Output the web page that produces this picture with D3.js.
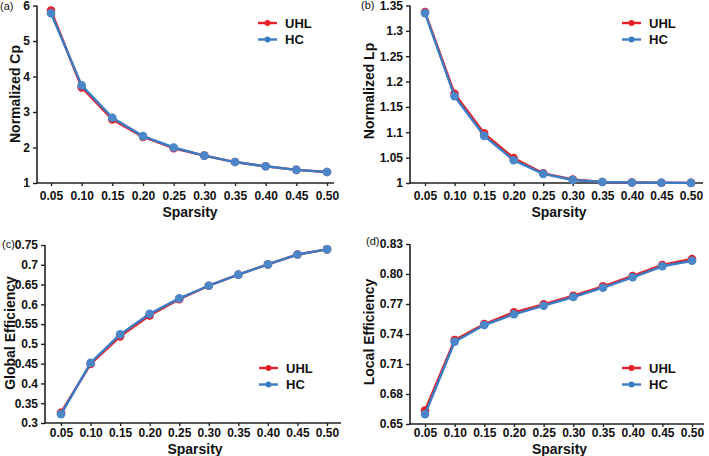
<!DOCTYPE html>
<html>
<head>
<meta charset="utf-8">
<script src="https://cdn.jsdelivr.net/npm/d3@7"></script>
<style>
  html, body { margin: 0; padding: 0; background: #fff; }
  svg { display: block; font-family: "Liberation Sans", Arial, sans-serif; }
</style>
</head>
<body>
<svg id="chart" width="709" height="456"></svg>
<script>
// ---- Data ----
const sparsity = [0.05, 0.10, 0.15, 0.20, 0.25, 0.30, 0.35, 0.40, 0.45, 0.50];
const seriesNames = ["UHL", "HC"];

const cpUHL = [5.86, 3.69, 2.79, 2.30, 1.98, 1.77, 1.59, 1.47, 1.37, 1.31];
const cpHC  = [5.78, 3.75, 2.84, 2.32, 2.00, 1.77, 1.59, 1.47, 1.37, 1.31];

const lpUHL = [1.337, 1.176, 1.098, 1.049, 1.019, 1.007, 1.002, 1.001, 1.0005, 1.0002];
const lpHC  = [1.335, 1.171, 1.093, 1.045, 1.018, 1.006, 1.002, 1.001, 1.0005, 1.0002];

const geUHL = [0.326, 0.449, 0.519, 0.572, 0.613, 0.647, 0.675, 0.701, 0.726, 0.739];
const geHC  = [0.322, 0.452, 0.524, 0.576, 0.615, 0.647, 0.675, 0.701, 0.726, 0.739];

const leUHL = [0.6635, 0.734, 0.750, 0.7617, 0.7697, 0.7783, 0.7877, 0.798, 0.809, 0.815];
const leHC  = [0.6597, 0.7323, 0.749, 0.7597, 0.7683, 0.777, 0.7863, 0.7967, 0.8077, 0.8133];

const cpTicks = [1, 2, 3, 4, 5, 6];
const lpTicks = [1, 1.05, 1.1, 1.15, 1.2, 1.25, 1.3, 1.35];
const geTicks = [0.3, 0.35, 0.4, 0.45, 0.5, 0.55, 0.6, 0.65, 0.7, 0.75];
const leTicks = [0.65, 0.68, 0.71, 0.74, 0.77, 0.80, 0.83];

// ---- Styles ----
const colors = { UHL: "#e8202a", HC: "#3a7cc3" };
const dotColors = { UHL: "#e8202a", HC: "#4a87c9" };
const axisColor = "#222";

const svg = d3.select("#chart");

const panels = [
  { label: "(a)", title: "Normalized Cp", data: [cpUHL, cpHC], ticks: cpTicks, fmt: d3.format("d"),
    yDomain: [1, 6], yRange: [183, 5.5], axisX: 37, x05: 51, x50: 327, xEnd: 334,
    labelPos: [0, 10], titleX: 15, titleY: 94, sparsY: 217, tickLabY: 200,
    legX: 258, legY: 23 },
  { label: "(b)", title: "Normalized Lp", data: [lpUHL, lpHC], ticks: lpTicks, fmt: d => String(+d.toFixed(2)),
    yDomain: [1, 1.35], yRange: [183, 5.5], axisX: 410, x05: 425, x50: 691, xEnd: 703,
    labelPos: [361, 9], titleX: 369, titleY: 91, sparsY: 217, tickLabY: 200,
    legX: 622, legY: 23 },
  { label: "(c)", title: "Global Efficiency", data: [geUHL, geHC], ticks: geTicks, fmt: d => String(+d.toFixed(2)),
    yDomain: [0.3, 0.75], yRange: [423, 245], axisX: 45, x05: 61, x50: 327, xEnd: 341,
    labelPos: [2, 248], titleX: 10, titleY: 333, sparsY: 454, tickLabY: 437,
    legX: 259, legY: 368 },
  { label: "(d)", title: "Local Efficiency", data: [leUHL, leHC], ticks: leTicks, fmt: d3.format(".2f"),
    yDomain: [0.65, 0.83], yRange: [424, 244], axisX: 410, x05: 425, x50: 692, xEnd: 704,
    labelPos: [366, 245], titleX: 369, titleY: 332, sparsY: 454, tickLabY: 437,
    legX: 622, legY: 368 }
];

panels.forEach(p => {
  const g = svg.append("g");
  const x = d3.scaleLinear().domain([0.05, 0.5]).range([p.x05, p.x50]);
  const y = d3.scaleLinear().domain(p.yDomain).range(p.yRange);
  const y0 = p.yRange[0];

  // y axis
  const ya = g.append("g").attr("transform", `translate(${p.axisX},0)`)
    .call(d3.axisLeft(y).tickValues(p.ticks).tickFormat(p.fmt).tickSize(4).tickPadding(3));
  ya.select(".domain").attr("stroke", axisColor).attr("stroke-width", 1.6)
    .attr("d", `M0,${p.yRange[1]}V${y0 + 0.8}`);
  ya.selectAll(".tick line").attr("stroke", axisColor).attr("stroke-width", 1.4);
  ya.selectAll(".tick text").attr("fill", "#111").style("font-size", "12px").style("font-weight", "bold");

  // x axis
  const xa = g.append("g").attr("transform", `translate(0,${y0})`)
    .call(d3.axisBottom(x).tickValues(sparsity).tickFormat(d3.format(".2f")).tickSize(3).tickPadding(5));
  xa.select(".domain").attr("stroke", axisColor).attr("stroke-width", 1.6)
    .attr("d", `M${p.axisX - 0.8},0H${p.xEnd}`);
  xa.selectAll(".tick line").attr("stroke", axisColor).attr("stroke-width", 1.4);
  xa.selectAll(".tick text").attr("fill", "#111").style("font-size", "12px").style("font-weight", "bold")
    .attr("y", p.tickLabY - y0).attr("dy", "0");

  // titles
  g.append("text").attr("x", (p.x05 + p.x50) / 2 + 1).attr("y", p.sparsY)
    .attr("text-anchor", "middle").style("font-size", "14px").style("font-weight", "bold").attr("fill", "#111")
    .text("Sparsity");
  g.append("text").attr("transform", `translate(${p.titleX + 5},${p.titleY}) rotate(-90)`)
    .attr("text-anchor", "middle").style("font-size", "14px").style("font-weight", "bold").attr("fill", "#111")
    .text(p.title);
  g.append("text").attr("x", p.labelPos[0]).attr("y", p.labelPos[1])
    .style("font-size", "11px").attr("fill", "#111").text(p.label);

  // lines
  const line = d3.line().x((d, i) => x(sparsity[i])).y(d => y(d));
  seriesNames.forEach((name, si) => {
    const vals = p.data[si];
    g.append("path").datum(vals).attr("fill", "none").attr("stroke", colors[name])
      .attr("stroke-width", 2.4).attr("stroke-linejoin", "round").attr("d", line);
    g.selectAll(null).data(vals).enter().append("circle")
      .attr("cx", (d, i) => x(sparsity[i])).attr("cy", d => y(d)).attr("r", 4.3)
      .attr("fill", dotColors[name]);
  });

  // legend
  seriesNames.forEach((name, si) => {
    const ly = p.legY + si * 16.5;
    g.append("line").attr("x1", p.legX).attr("x2", p.legX + 19).attr("y1", ly).attr("y2", ly)
      .attr("stroke", colors[name]).attr("stroke-width", 2.4);
    g.append("circle").attr("cx", p.legX + 9.5).attr("cy", ly).attr("r", 3).attr("fill", colors[name]);
    g.append("text").attr("x", p.legX + 27).attr("y", ly).attr("dy", "0.36em")
      .style("font-size", "13px").style("font-weight", "bold").attr("fill", "#111").text(name);
  });
});
</script>
</body>
</html>
